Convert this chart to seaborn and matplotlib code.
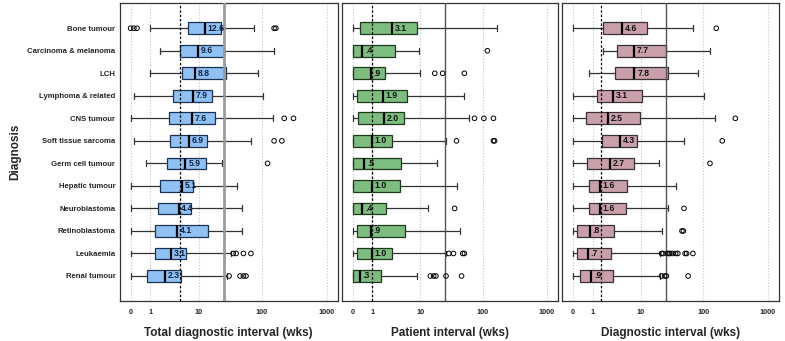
import numpy as np
import pandas as pd
import matplotlib
matplotlib.use("Agg")
from matplotlib import pyplot as plt
import seaborn as sns

# diagnosis groups, top to bottom
diagnoses = ['Bone tumour', 'Carcinoma & melanoma', 'LCH', 'Lymphoma & related',
             'CNS tumour', 'Soft tissue sarcoma', 'Germ cell tumour', 'Hepatic tumour',
             'Neuroblastoma', 'Retinoblastoma', 'Leukaemia', 'Renal tumour']

# total diagnostic interval (weeks): whisker low, Q1, median, Q3, whisker high
tdi_lo  = [1.0, 1.8, 1.0, 0.12, 0, 0.12, 0.7, 0, 0, 0, 0, 0]
tdi_q1  = [6.6, 4.7, 5.0, 3.5, 2.9, 3.0, 2.6, 1.8, 1.6, 1.4, 1.4, 0.8]
tdi_med = [12.6, 9.6, 8.8, 7.9, 7.6, 6.9, 5.9, 5.1, 4.4, 4.1, 3.1, 2.3]
tdi_q3  = [23.1, 25.8, 27.5, 16.4, 18.3, 13.6, 13.1, 7.9, 7.5, 14.4, 6.1, 4.8]
tdi_hi  = [76, 152, 89, 104, 148, 69, 24, 42, 49, 50, 33, 28.5]
tdi_out = [[0, 0.12, 0.25, 155, 165], [], [], [], [222, 308], [155, 204], [123], [], [], [],
           [36, 40, 52, 68], [31, 46, 52, 57]]

# patient interval (weeks)
pi_lo  = [0, 0, 0, 0, 0, 0, 0, 0, 0, 0, 0, 0]
pi_q1  = [0.29, 0, 0, 0.15, 0.21, 0, 0, 0, 0, 0.15, 0.15, 0]
pi_med = [3.1, 0.4, 0.9, 1.9, 2.0, 1.0, 0.5, 1.0, 0.4, 0.9, 1.0, 0.3]
pi_q3  = [8.9, 3.5, 2.1, 5.9, 5.2, 3.1, 4.5, 4.35, 2.3, 5.5, 3.1, 1.76]
pi_hi  = [167, 9.6, 9.9, 52, 62, 27, 19, 40, 13.4, 44, 27, 8.9]
pi_out = [[], [119], [17.5, 23.5, 52], [], [75, 105, 148], [39, 148, 154], [], [], [36.5], [],
          [29.6, 35, 49, 52], [14.8, 16.8, 18.3, 26.6, 47]]

# diagnostic interval (weeks)
di_lo  = [0, 1.9, 0.76, 0, 0, 0, 0, 0, 0, 0, 0, 0]
di_q1  = [1.9, 3.7, 3.4, 1.3, 0.58, 1.76, 0.64, 0.76, 0.76, 0.15, 0.15, 0.3]
di_med = [4.6, 7.7, 7.8, 3.1, 2.5, 4.3, 2.7, 1.6, 1.6, 0.8, 0.7, 0.9]
di_q3  = [12.6, 26.3, 28.3, 10.5, 9.7, 8.65, 7.7, 5.7, 5.5, 3.3, 2.8, 3.1]
di_hi  = [69, 126, 83, 101, 150, 50, 20, 37, 28, 22, 20.6, 21]
di_out = [[159], [], [], [], [314], [197], [127], [], [50], [46.5, 49],
          [22, 23.3, 27, 29, 30, 33, 37, 40, 52, 55, 69], [22, 24.8, 26.3, 58]]

# overall medians (dotted) and 26-week reference (solid)
overall_med = [4.6, 1.0, 1.7]
ref_wks = 26

xticks = [0, 1, 10, 100, 1000]
xlabels = ['Total diagnostic interval (wks)', 'Patient interval (wks)', 'Diagnostic interval (wks)']

panels = [
    (tdi_lo, tdi_q1, tdi_med, tdi_q3, tdi_hi, tdi_out),
    (pi_lo, pi_q1, pi_med, pi_q3, pi_hi, pi_out),
    (di_lo, di_q1, di_med, di_q3, di_hi, di_out),
]
fills = ['#8fc1f5', '#7dbd7f', '#c9a0aa']
edges = ['#1b3150', '#1d3a1d', '#3a3035']
txtcol = ['#0d2240', '#111111', '#111111']
refcol = ['#9a9a9a', '#555555', '#555555']
reflw = [2.0, 1.0, 1.0]

sns.set_style('white')
plt.rcParams['font.family'] = ['Liberation Sans', 'DejaVu Sans']

fig = plt.figure(figsize=(7.85, 3.41), dpi=100)
lefts = [119.5, 341.7, 562]
rights = [338, 558, 779]

fwd = lambda x: np.log10(np.maximum(np.asarray(x, dtype=float) + 1, 1e-6))
inv = lambda y: 10 ** np.asarray(y, dtype=float) - 1

for k, (lo, q1, med, q3, hi, out) in enumerate(panels):
    ax = fig.add_axes([lefts[k] / 785, 1 - 301 / 341, (rights[k] - lefts[k]) / 785, 298 / 341])
    ax.set_xscale('function', functions=(fwd, inv))

    rows = []
    for i, d in enumerate(diagnoses):
        for v in (lo[i], q1[i], med[i], q3[i], hi[i]):
            rows.append({'diagnosis': d, 'weeks': v})
    df = pd.DataFrame(rows)

    sns.boxplot(data=df, x='weeks', y='diagnosis', order=diagnoses, ax=ax,
                color=fills[k], saturation=1, width=0.52, whis=(0, 100),
                showfliers=False, linecolor=edges[k], linewidth=0.9,
                medianprops=dict(color='black', linewidth=1.6),
                whiskerprops=dict(color='#333333', linewidth=0.9),
                capprops=dict(color='#333333', linewidth=0.9))

    for i in range(len(diagnoses)):
        if out[i]:
            ax.scatter(out[i], [i] * len(out[i]), s=11, facecolor='none',
                       edgecolor='black', linewidth=0.7, zorder=4)
        lab = f'{med[i]:.1f}'
        if lab.startswith('0.'):
            lab = lab[1:]
        ax.annotate(lab, (med[i], i), xytext=(2, 0), textcoords='offset points',
                    ha='left', va='center', fontsize=6.2, fontweight='bold',
                    color=txtcol[k], zorder=5)

    for t in xticks:
        ax.axvline(t, color='#c4c4c4', linestyle=':', linewidth=0.8, zorder=0)
    ax.axvline(overall_med[k], color='black', linestyle=(0, (2, 1.5)), linewidth=0.9, zorder=3)
    ax.axvline(ref_wks, color=refcol[k], linewidth=reflw[k], zorder=3)

    ax.set_xlim(inv(-0.17), inv(3.17))
    ax.set_ylim(12.11, -1.12)
    ax.set_xticks(xticks)
    ax.set_xticklabels([str(t) for t in xticks], fontsize=5.2, fontweight='bold')
    ax.tick_params(axis='both', length=0)
    ax.tick_params(axis='x', pad=6)
    ax.set_xlabel(xlabels[k], fontsize=8.5, fontweight='bold', labelpad=8)
    if k == 0:
        ax.set_yticks(range(len(diagnoses)))
        ax.set_yticklabels(diagnoses, fontsize=5.6, fontweight='bold')
        ax.tick_params(axis='y', pad=3)
        ax.set_ylabel('Diagnosis', fontsize=8.5, fontweight='bold', labelpad=4)
    else:
        ax.set_yticks([])
        ax.set_ylabel('')
    for s in ax.spines.values():
        s.set_visible(True)
        s.set_color('#333333')
        s.set_linewidth(0.9)

fig.savefig('out.png', dpi=100)
